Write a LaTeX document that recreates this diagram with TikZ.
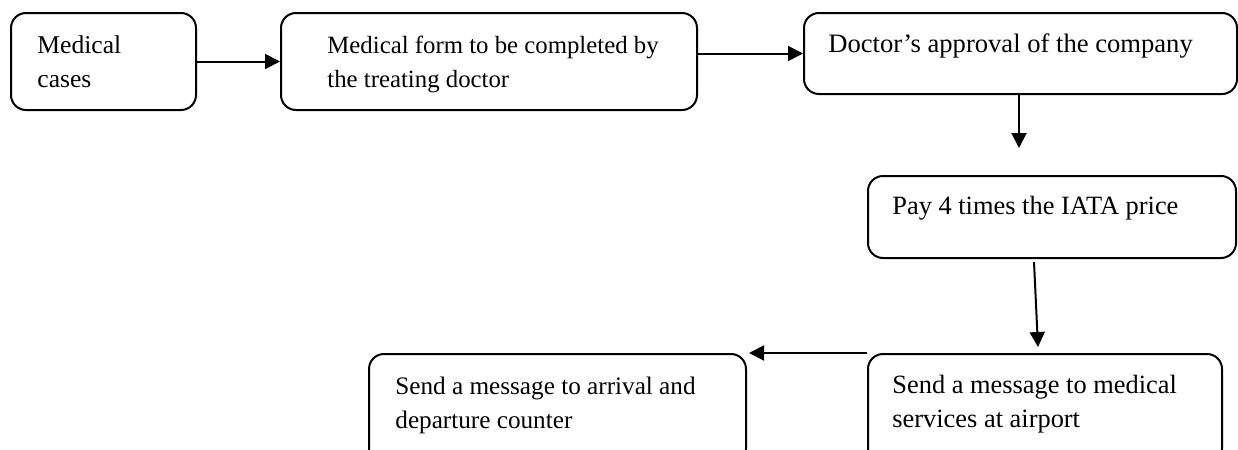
\documentclass[tikz,border=0pt]{standalone}
\usepackage{fontspec}
\setmainfont{Liberation Serif}
\usetikzlibrary{arrows.meta}

\tikzset{
  stepbox/.style={draw, line width=1pt, rounded corners=7.5pt,
    anchor=north west, inner sep=0pt, minimum width=#1},
  txt/.style={anchor=base west, inner sep=0pt, align=left,
    font=\fontsize{#1}{17}\selectfont},
  arr/.style={line width=1pt, -{Triangle[length=7.5pt,width=7.5pt]}}
}

\begin{document}
\begin{tikzpicture}[x=0.5pt, y=-0.5pt]
  \useasboundingbox (0,0) rectangle (1238,450);
  \clip (0,0) rectangle (1238,450);

  % process boxes (top-left corner in px)
  \node[stepbox=92.5pt,  minimum height=48.5pt] (b1) at (10,12)   {};
  \node[stepbox=208pt,   minimum height=48.5pt] (b2) at (280,12)  {};
  \node[stepbox=216.5pt, minimum height=40.5pt] (b3) at (803,12)  {};
  \node[stepbox=184pt,   minimum height=41pt]   (b4) at (867,175) {};
  \node[stepbox=177pt,   minimum height=55pt]   (b5) at (867,353) {};
  \node[stepbox=188.5pt, minimum height=55pt]   (b6) at (368,353) {};

  % box texts (anchored on the baseline of the last line)
  \node[txt=12.8] (t1) at (37,87)   {Medical\\cases};
  \node[txt=12.4] (t2) at (327,87)  {Medical form to be completed by\\the treating doctor};
  \node[txt=13.3] (t3) at (828,52)  {Doctor’s approval of the company};
  \node[txt=13.2] (t4) at (892,214) {Pay 4 times the IATA price};
  \node[txt=13.2] (t5) at (892,427) {Send a message to medical\\services at airport};
  \node[txt=12.6] (t6) at (395,428) {Send a message to arrival and\\departure counter};

  % free arrow ends
  \coordinate (d3) at (1019,148);
  \coordinate (s4) at (1034,262);
  \coordinate (e4) at (1038,347);

  % connectors
  \draw[arr] (b1.east) -- (b2.west |- b1.east);
  \draw[arr] (b2.east |- b3.west) -- (b3.west);
  \draw[arr] (b3.south -| d3) -- (d3);
  \draw[arr] (s4) -- (e4);
  \draw[arr] (b5.north west) -- ([xshift=1pt]b6.north east);
\end{tikzpicture}
\end{document}
